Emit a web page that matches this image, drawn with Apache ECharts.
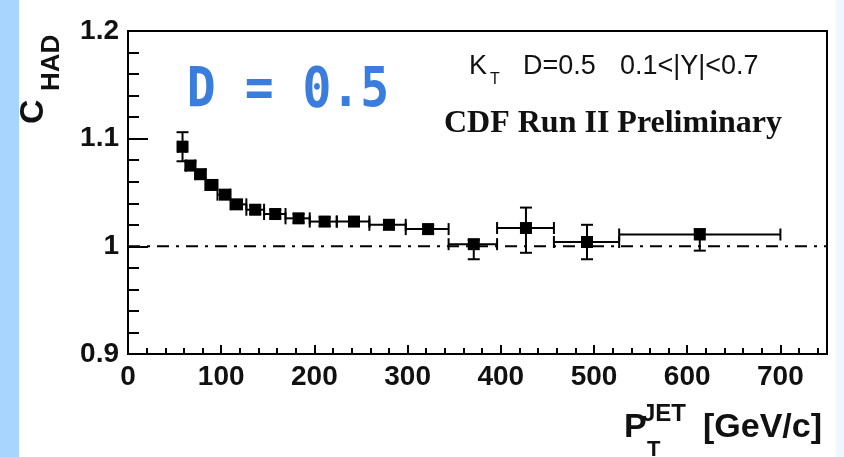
<!DOCTYPE html>
<html>
<head>
<meta charset="utf-8">
<script src="https://cdn.jsdelivr.net/npm/echarts@6/dist/echarts.min.js"></script>
<style>
html,body{margin:0;padding:0;background:#fff;}
#chart{width:844px;height:457px;}
</style>
</head>
<body>
<div id="chart"></div>
<script>
// Bin edges of the jet pT bins (GeV/c)
var binLow  = [54, 62, 72, 83, 96, 110, 127, 146, 169, 195, 224, 259, 298, 344, 396, 457, 527];
var binHigh = [62, 72, 83, 96, 110, 127, 146, 169, 195, 224, 259, 298, 344, 396, 457, 527, 700];
// Point positions (GeV/c) and C_HAD values
var ptX  = [58.5, 67, 78, 90, 104, 117, 136.5, 158, 183, 211, 242.5, 280, 322, 371, 427, 492.5, 613.5];
var cHad = [1.0925, 1.075, 1.067, 1.057, 1.048, 1.039, 1.034, 1.030, 1.026, 1.023, 1.023, 1.020, 1.016, 1.002, 1.017, 1.004, 1.011];
// Vertical error bar ends
var errLow  = [1.079, 1.071, 1.063, 1.053, 1.044, 1.035, 1.030, 1.026, 1.022, 1.019, 1.019, 1.016, 1.012, 0.988, 0.994, 0.988, 0.996];
var errHigh = [1.106, 1.079, 1.071, 1.061, 1.052, 1.043, 1.038, 1.034, 1.030, 1.027, 1.027, 1.024, 1.020, 1.006, 1.036, 1.020, 1.016];
// Reference line
var refLine = [[0, 1], [750, 1]];
// Axis tick values
var xTicks = [0, 100, 200, 300, 400, 500, 600, 700];
var yTicks = [0.9, 1.0, 1.1, 1.2];

var errData = [];
var ptData = [];
for (var i = 0; i < ptX.length; i++) {
  errData.push([binLow[i], binHigh[i], cHad[i], errLow[i], errHigh[i], ptX[i]]);
  ptData.push([ptX[i], cHad[i]]);
}

var SANS = '"Liberation Sans", Arial, sans-serif';
var chart = echarts.init(document.getElementById('chart'));

function renderErr(params, api) {
  var xl = api.value(0), xh = api.value(1), y = api.value(2);
  var yl = api.value(3), yh = api.value(4), x = api.value(5);
  var pL = api.coord([xl, y]), pH = api.coord([xh, y]);
  var pB = api.coord([x, yl]), pT = api.coord([x, yh]);
  var cap = 6;
  var st = {stroke: '#000', lineWidth: 2};
  return {
    type: 'group',
    children: [
      {type: 'line', shape: {x1: pL[0], y1: pL[1], x2: pH[0], y2: pH[1]}, style: st},
      {type: 'line', shape: {x1: pL[0], y1: pL[1] - cap, x2: pL[0], y2: pL[1] + cap}, style: st},
      {type: 'line', shape: {x1: pH[0], y1: pH[1] - cap, x2: pH[0], y2: pH[1] + cap}, style: st},
      {type: 'line', shape: {x1: pB[0], y1: pB[1], x2: pT[0], y2: pT[1]}, style: st},
      {type: 'line', shape: {x1: pB[0] - cap, y1: pB[1], x2: pB[0] + cap, y2: pB[1]}, style: st},
      {type: 'line', shape: {x1: pT[0] - cap, y1: pT[1], x2: pT[0] + cap, y2: pT[1]}, style: st}
    ]
  };
}

var option = {
  animation: false,
  backgroundColor: '#ffffff',
  grid: {left: 128, right: 17, top: 31, bottom: 103, show: true, borderColor: '#000', borderWidth: 2, backgroundColor: 'transparent'},
  xAxis: {
    type: 'value', min: 0, max: 750, interval: 100,
    axisLine: {show: true, lineStyle: {color: '#000', width: 2}},
    axisTick: {show: true, inside: true, length: 9, lineStyle: {color: '#000', width: 2}},
    minorTick: {show: true, splitNumber: 5, length: 6, lineStyle: {color: '#000', width: 2}},
    splitLine: {show: false},
    axisLabel: {
      margin: 9, color: '#111', fontFamily: SANS, fontWeight: 'bold', fontSize: 28,
      showMaxLabel: false,
      formatter: function (v) { return xTicks.indexOf(v) >= 0 ? String(v) : ''; }
    }
  },
  yAxis: {
    type: 'value', min: 0.9, max: 1.2, interval: 0.1,
    axisLine: {show: true, lineStyle: {color: '#000', width: 2}},
    axisTick: {show: true, inside: true, length: 20, lineStyle: {color: '#000', width: 2}},
    minorTick: {show: true, splitNumber: 5, length: 11, lineStyle: {color: '#000', width: 2}},
    splitLine: {show: false},
    axisLabel: {
      margin: 9, color: '#111', fontFamily: SANS, fontWeight: 'bold', fontSize: 28,
      formatter: function (v) {
        var r = Math.round(v * 10) / 10;
        for (var k = 0; k < yTicks.length; k++) {
          if (Math.abs(yTicks[k] - r) < 1e-6) return r === 1 ? '1' : r.toFixed(1);
        }
        return '';
      }
    }
  },
  series: [
    {
      type: 'line', data: refLine, symbol: 'none', silent: true, z: 1,
      lineStyle: {color: '#000', width: 2, type: [12, 7, 3, 7]}
    },
    {
      type: 'custom', data: errData, renderItem: renderErr, z: 2, silent: true,
      encode: {x: [0, 1, 5], y: [2, 3, 4]}
    },
    {
      type: 'scatter', data: ptData, symbol: 'rect', symbolSize: 12, z: 3, silent: true,
      itemStyle: {color: '#000', opacity: 1}
    }
  ],
  graphic: [
    {type: 'rect', left: 0, top: 0, shape: {width: 19, height: 457}, style: {fill: '#a8d5fe'}, z: 10},
    {type: 'rect', left: 836, top: 0, shape: {width: 8, height: 457}, style: {fill: '#eef6ff'}, z: 10},
    // Y axis title C_HAD (rotated)
    {type: 'text', x: 34, y: 124, rotation: Math.PI / 2, z: 10,
      style: {text: 'C', fontFamily: SANS, fontWeight: 'bold', fontSize: 34, fill: '#111', textAlign: 'left', textVerticalAlign: 'middle'}},
    {type: 'text', x: 52, y: 91, rotation: Math.PI / 2, z: 10,
      style: {text: 'HAD', fontFamily: SANS, fontWeight: 'bold', fontSize: 26, fill: '#111', textAlign: 'left', textVerticalAlign: 'middle'}},
    // X axis title P_T^JET [GeV/c]
    {type: 'text', x: 624, y: 428, z: 10,
      style: {text: 'P', fontFamily: SANS, fontWeight: 'bold', fontSize: 34, fill: '#111', textAlign: 'left', textVerticalAlign: 'middle'}},
    {type: 'text', x: 642, y: 414, z: 10,
      style: {text: 'JET', fontFamily: SANS, fontWeight: 'bold', fontSize: 24, fill: '#111', textAlign: 'left', textVerticalAlign: 'middle'}},
    {type: 'text', x: 647, y: 450, z: 10,
      style: {text: 'T', fontFamily: SANS, fontWeight: 'bold', fontSize: 22, fill: '#111', textAlign: 'left', textVerticalAlign: 'middle'}},
    {type: 'text', x: 703, y: 428, z: 10,
      style: {text: '[GeV/c]', fontFamily: SANS, fontWeight: 'bold', fontSize: 34, fill: '#111', textAlign: 'left', textVerticalAlign: 'middle'}},
    // Annotation top right
    {type: 'text', x: 469, y: 67, z: 10,
      style: {text: 'K', fontFamily: SANS, fontSize: 27, fill: '#111', textAlign: 'left', textVerticalAlign: 'middle'}},
    {type: 'text', x: 490, y: 80, z: 10,
      style: {text: 'T', fontFamily: SANS, fontSize: 16, fill: '#111', textAlign: 'left', textVerticalAlign: 'middle'}},
    {type: 'text', x: 523, y: 67, z: 10,
      style: {text: 'D=0.5', fontFamily: SANS, fontSize: 27, fill: '#111', textAlign: 'left', textVerticalAlign: 'middle'}},
    {type: 'text', x: 620, y: 67, z: 10,
      style: {text: '0.1<|Y|<0.7', fontFamily: SANS, fontSize: 27, fill: '#111', textAlign: 'left', textVerticalAlign: 'middle'}},
    {type: 'text', x: 613, y: 124, z: 10,
      style: {text: 'CDF Run II Preliminary', fontFamily: '"Liberation Serif", "Times New Roman", serif', fontWeight: 'bold', fontSize: 32, fill: '#111', textAlign: 'center', textVerticalAlign: 'middle'}},
    // Blue label
    {type: 'text', x: 288, y: 92, scaleY: 1.15, z: 10,
      style: {text: 'D = 0.5', fontFamily: '"DejaVu Sans Mono", monospace', fontWeight: 'bold', fontSize: 48, fill: '#3b7ddd', textAlign: 'center', textVerticalAlign: 'middle'}}
  ]
};
chart.setOption(option);
</script>
</body>
</html>
